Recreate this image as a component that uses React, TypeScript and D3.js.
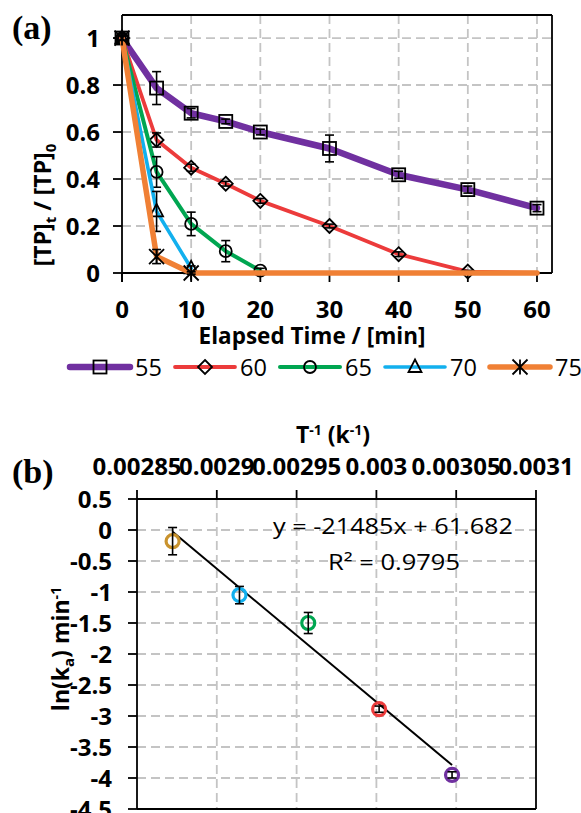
import React from "react";
import * as d3 from "d3";

// ---------- Data: panel (a) ----------
const times = [0, 5, 10, 15, 20, 30, 40, 50, 60];
const seriesNames = ["55", "60", "65", "70", "75"];
const tp55 = [1, 0.787, 0.68, 0.645, 0.6, 0.53, 0.418, 0.355, 0.276];
const err55 = [0.01, 0.07, 0.02, 0.01, 0.012, 0.057, 0.015, 0.015, 0.015];
const tp60 = [1, 0.566, 0.448, 0.38, 0.307, 0.2, 0.08, 0.006, 0];
const err60 = [0.01, 0.03, 0.015, 0.01, 0.01, 0.008, 0.01, 0.005, 0];
const markerCount60 = 8;
const tp65 = [1, 0.43, 0.209, 0.093, 0.01];
const err65 = [0.01, 0.065, 0.05, 0.045, 0.01];
const tp70 = [1, 0.262, 0.02];
const err70 = [0.01, 0.085, 0.01];
const tp75 = [1, 0.07, 0, 0, 0, 0, 0, 0, 0];
const err75 = [0.01, 0.03, 0.005, 0, 0, 0, 0, 0, 0];
const markerCount75 = 3;

const xTicksA = [0, 10, 20, 30, 40, 50, 60];
const yTicksA = [0, 0.2, 0.4, 0.6, 0.8, 1];

// ---------- Data: panel (b) ----------
const invT = [0.0028723, 0.0029142, 0.0029573, 0.0030017, 0.0030474];
const lnKa = [-0.18, -1.05, -1.5, -2.89, -3.95];
const lnKaErr = [0.22, 0.14, 0.17, 0.05, 0.05];
const trendSlope = -21485;
const trendIntercept = 61.682;
const xTicksB = [0.00285, 0.0029, 0.00295, 0.003, 0.00305, 0.0031];
const xTickLabelsB = ["0.00285", "0.0029", "0.00295", "0.003", "0.00305", "0.0031"];
const yTicksB = [0.5, 0, -0.5, -1, -1.5, -2, -2.5, -3, -3.5, -4, -4.5];

const colorsA = ["#7030A0", "#EC3B3B", "#00A651", "#12B0EE", "#F08035"];
const widthsA = [6.5, 3.8, 4, 3.6, 5.5];
const shapesA = ["square", "diamond", "circle", "triangle", "star"];
const colorsB = ["#C9932E", "#12B0EE", "#00A651", "#EC3B3B", "#7030A0"];

const FONT = "'Open Sans', sans-serif";
const TICK_FS = 24;

function Marker({ shape, x, y }: { shape: string; x: number; y: number }) {
  const common = { fill: "none", stroke: "#000", strokeWidth: 1.8 };
  if (shape === "square")
    return <rect x={x - 6.5} y={y - 6.5} width={13} height={13} {...common} />;
  if (shape === "diamond")
    return <path d={`M${x},${y - 7}L${x + 7},${y}L${x},${y + 7}L${x - 7},${y}Z`} {...common} />;
  if (shape === "circle") return <circle cx={x} cy={y} r={6} {...common} />;
  if (shape === "triangle")
    return <path d={`M${x},${y - 7.5}L${x + 6.5},${y + 5}L${x - 6.5},${y + 5}Z`} {...common} />;
  const s = 7.5;
  return (
    <path
      d={`M${x - s},${y - s}L${x + s},${y + s}M${x - s},${y + s}L${x + s},${y - s}M${x},${y - s}L${x},${y + s}`}
      {...common}
    />
  );
}

export default function App() {
  const xA = d3.scaleLinear().domain([0, 62.17]).range([122, 552]);
  const yA = d3.scaleLinear().domain([0, 1.098]).range([273, 15]);
  const xB = d3.scaleLinear().domain([0.00285, 0.0031]).range([137, 536]);
  const yB = d3.scaleLinear().domain([-4.5, 0.5]).range([809, 499]);

  const seriesVals = [tp55, tp60, tp65, tp70, tp75];
  const seriesErrs = [err55, err60, err65, err70, err75];
  const markerCounts = [tp55.length, markerCount60, tp65.length, tp70.length, markerCount75];

  const line = d3
    .line<number>()
    .x((_, i) => xA(times[i]))
    .y((v) => yA(v))
    .curve(d3.curveLinear);

  const [a0, a1] = xA.range();
  const [aBottom, aTop] = yA.range();
  const [b0, b1] = xB.range();
  const [bBottom, bTop] = yB.range();

  const trendX = d3.extent(invT) as [number, number];

  return (
    <svg
      width={581}
      height={813}
      style={{ position: "absolute", left: 0, top: 0, background: "#fff" }}
      fontFamily={FONT}
    >
      <rect x={0} y={0} width={581} height={813} fill="#fff" />

      {/* ================= Panel (a) ================= */}
      <text x={12} y={39} fontFamily="'Liberation Serif', serif" fontWeight="bold" fontSize={34}>
        (a)
      </text>

      {yTicksA.filter((v) => v > 0).map((v) => (
        <line key={"gya" + v} x1={a0} x2={a1} y1={yA(v)} y2={yA(v)} stroke="#C4C4C4" strokeWidth={1.8} strokeDasharray="9,5" />
      ))}
      {xTicksA.filter((v) => v > 0).map((v) => (
        <line key={"gxa" + v} x1={xA(v)} x2={xA(v)} y1={aTop} y2={aBottom} stroke="#C4C4C4" strokeWidth={1.8} strokeDasharray="9,5" />
      ))}

      <line x1={a0} x2={a1} y1={aTop} y2={aTop} stroke="#000" strokeWidth={1.8} />
      <line x1={a1} x2={a1} y1={aTop} y2={aBottom} stroke="#000" strokeWidth={1.8} />
      <line x1={a0} x2={a1} y1={aBottom} y2={aBottom} stroke="#000" strokeWidth={1.8} />
      <line x1={a0} x2={a0} y1={aTop} y2={aBottom + 9} stroke="#000" strokeWidth={1.8} />
      {yTicksA.map((v) => (
        <line key={"tya" + v} x1={a0 - 9} x2={a0} y1={yA(v)} y2={yA(v)} stroke="#000" strokeWidth={1.8} />
      ))}
      {xTicksA.map((v) => (
        <line key={"txa" + v} x1={xA(v)} x2={xA(v)} y1={aBottom} y2={aBottom + 9} stroke="#000" strokeWidth={1.8} />
      ))}

      {yTicksA.map((v) => (
        <text key={"lya" + v} x={100} y={yA(v) + 8.5} textAnchor="end" fontWeight="bold" fontSize={TICK_FS}>
          {String(v)}
        </text>
      ))}
      {xTicksA.map((v) => (
        <text key={"lxa" + v} x={xA(v)} y={318} textAnchor="middle" fontWeight="bold" fontSize={TICK_FS}>
          {String(v)}
        </text>
      ))}

      <text x={312} y={344} textAnchor="middle" fontWeight="bold" fontSize={22.5}>
        Elapsed Time / [min]
      </text>
      <text transform="translate(51,205) rotate(-90)" textAnchor="middle" fontWeight="bold" fontSize={23}>
        [TP]
        <tspan dy={5} fontSize={15}>t</tspan>
        <tspan dy={-5}> / [TP]</tspan>
        <tspan dy={5} fontSize={15}>0</tspan>
      </text>

      {seriesVals.map((vals, si) => (
        <g key={"s" + si}>
          <path d={line(vals) || ""} fill="none" stroke={colorsA[si]} strokeWidth={widthsA[si]} strokeLinejoin="round" strokeLinecap="round" />
          {vals.slice(0, markerCounts[si]).map((v, i) => {
            const e = seriesErrs[si][i];
            const cx = xA(times[i]);
            return (
              <g key={i}>
                {e > 0.004 && (
                  <g stroke="#000" strokeWidth={1.6}>
                    <line x1={cx} x2={cx} y1={yA(v + e)} y2={yA(Math.max(v - e, -0.02))} />
                    <line x1={cx - 4.5} x2={cx + 4.5} y1={yA(v + e)} y2={yA(v + e)} />
                    <line x1={cx - 4.5} x2={cx + 4.5} y1={yA(v - e)} y2={yA(v - e)} />
                  </g>
                )}
                <Marker shape={shapesA[si]} x={cx} y={yA(v)} />
              </g>
            );
          })}
        </g>
      ))}

      {seriesNames.map((name, i) => {
        const lx = 70 + 105 * i;
        const ly = 367;
        return (
          <g key={"leg" + name}>
            <line x1={lx} x2={lx + 60} y1={ly} y2={ly} stroke={colorsA[i]} strokeWidth={widthsA[i]} strokeLinecap="round" />
            <Marker shape={shapesA[i]} x={lx + 30} y={ly} />
            <text x={lx + 65} y={ly + 8.5} fontSize={23.5}>
              {name}
            </text>
          </g>
        );
      })}

      {/* ================= Panel (b) ================= */}
      <text x={12} y={483} fontFamily="'Liberation Serif', serif" fontWeight="bold" fontSize={34}>
        (b)
      </text>

      <text x={333} y={443} textAnchor="middle" fontWeight="bold" fontSize={23}>
        T<tspan dy={-8} fontSize={14}>-1</tspan>
        <tspan dy={8}> (k</tspan>
        <tspan dy={-8} fontSize={14}>-1</tspan>
        <tspan dy={8}>)</tspan>
      </text>

      {yTicksB.filter((v) => v < 0.5 && v > -4.5).map((v) => (
        <line key={"gyb" + v} x1={b0} x2={b1} y1={yB(v)} y2={yB(v)} stroke="#C4C4C4" strokeWidth={1.8} strokeDasharray="9,5" />
      ))}
      {xTicksB.slice(1, -1).map((v) => (
        <line key={"gxb" + v} x1={xB(v)} x2={xB(v)} y1={bTop} y2={bBottom} stroke="#C4C4C4" strokeWidth={1.8} strokeDasharray="9,5" />
      ))}

      <line x1={b0} x2={b1} y1={bTop} y2={bTop} stroke="#000" strokeWidth={1.8} />
      <line x1={b0} x2={b1} y1={bBottom} y2={bBottom} stroke="#000" strokeWidth={1.8} />
      <line x1={b0} x2={b0} y1={bTop} y2={bBottom} stroke="#000" strokeWidth={1.8} />
      <line x1={b1} x2={b1} y1={bTop} y2={bBottom} stroke="#000" strokeWidth={1.8} />
      {xTicksB.map((v) => (
        <line key={"txb" + v} x1={xB(v)} x2={xB(v)} y1={bTop - 9} y2={bTop} stroke="#000" strokeWidth={1.8} />
      ))}
      {yTicksB.map((v) => (
        <line key={"tyb" + v} x1={b0 - 9} x2={b0} y1={yB(v)} y2={yB(v)} stroke="#000" strokeWidth={1.8} />
      ))}

      {xTicksB.map((v, i) => (
        <text key={"lxb" + v} x={xB(v)} y={475} textAnchor="middle" fontWeight="bold" fontSize={TICK_FS}>
          {xTickLabelsB[i]}
        </text>
      ))}
      {yTicksB.map((v) => (
        <text key={"lyb" + v} x={112} y={yB(v) + 8.5} textAnchor="end" fontWeight="bold" fontSize={TICK_FS}>
          {String(v)}
        </text>
      ))}

      <text transform="translate(69,649) rotate(-90)" textAnchor="middle" fontWeight="bold" fontSize={23}>
        ln(k<tspan dy={5} fontSize={15}>a</tspan>
        <tspan dy={-5}>) min</tspan>
        <tspan dy={-8} fontSize={14}>-1</tspan>
      </text>

      <line
        x1={xB(trendX[0])}
        y1={yB(trendSlope * trendX[0] + trendIntercept)}
        x2={xB(trendX[1])}
        y2={yB(trendSlope * trendX[1] + trendIntercept)}
        stroke="#000"
        strokeWidth={2}
      />

      {invT.map((t, i) => {
        const cx = xB(t);
        const v = lnKa[i];
        const e = lnKaErr[i];
        return (
          <g key={"pb" + i}>
            <circle cx={cx} cy={yB(v)} r={6.5} fill="none" stroke={colorsB[i]} strokeWidth={3.2} />
            <g stroke="#000" strokeWidth={1.6}>
              <line x1={cx} x2={cx} y1={yB(v + e)} y2={yB(v - e)} />
              <line x1={cx - 4.5} x2={cx + 4.5} y1={yB(v + e)} y2={yB(v + e)} />
              <line x1={cx - 4.5} x2={cx + 4.5} y1={yB(v - e)} y2={yB(v - e)} />
            </g>
          </g>
        );
      })}

      <text x={273} y={534} fontSize={22} textLength={240} lengthAdjust="spacingAndGlyphs">
        y = -21485x + 61.682
      </text>
      <text x={328} y={570} fontSize={22} textLength={132} lengthAdjust="spacingAndGlyphs">
        R² = 0.9795
      </text>
    </svg>
  );
}
